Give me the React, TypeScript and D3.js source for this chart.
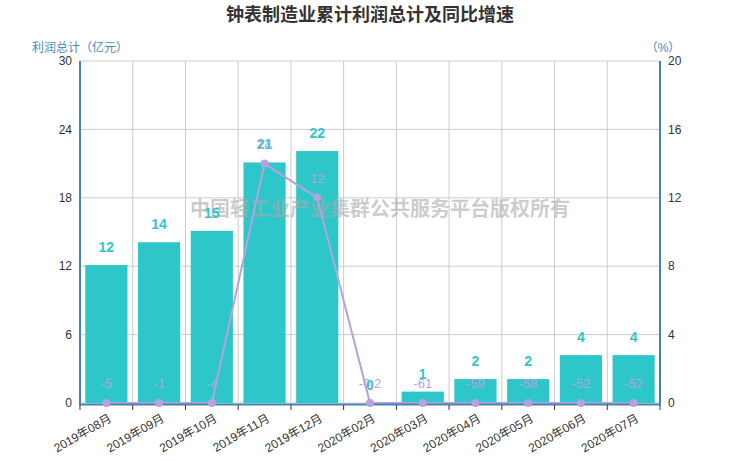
import React, { useEffect, useRef } from 'react';
import * as d3 from 'd3';

const categories = ['2019年08月', '2019年09月', '2019年10月', '2019年11月', '2019年12月', '2020年02月', '2020年03月', '2020年04月', '2020年05月', '2020年06月', '2020年07月'];
const profit = [12.1, 14.1, 15.1, 21.1, 22.1, 0, 1.0, 2.1, 2.1, 4.2, 4.2];
const growth = [-5, -1, -4, 14, 12, -0.2, -61, -59, -58, -52, -52];
const leftTicks = [0, 6, 12, 18, 24, 30];
const rightTicks = [0, 4, 8, 12, 16, 20];

const FONT = '"Liberation Sans", "Noto Sans CJK SC", sans-serif';

export default function App() {
    const ref = useRef<SVGSVGElement | null>(null);

    useEffect(() => {
        const svg = d3.select(ref.current);
        svg.selectAll('*').remove();
        const width = 740, height = 462;
        const margin = { top: 61, right: 80, bottom: 59, left: 80 };
        const bottom = height - margin.bottom;

        const band = d3.scaleBand().domain(categories).range([margin.left, width - margin.right]);
        const yL = d3.scaleLinear().domain([0, 30]).range([bottom, margin.top]);
        const yR = d3.scaleLinear().domain([0, 20]).range([bottom, margin.top]).clamp(true);

        svg.attr('viewBox', `0 0 ${width} ${height}`).style('font-family', FONT);

        // title
        svg.append('text').attr('x', 370).attr('y', 21).attr('text-anchor', 'middle')
            .attr('font-size', 18).attr('font-weight', 'bold').attr('fill', '#333')
            .text('钟表制造业累计利润总计及同比增速');

        // horizontal grid
        svg.append('g').selectAll('line').data(leftTicks).join('line')
            .attr('x1', margin.left).attr('x2', width - margin.right)
            .attr('y1', d => yL(d)).attr('y2', d => yL(d))
            .attr('stroke', '#ccc').attr('stroke-width', 1);

        // vertical grid at category boundaries
        const bounds = categories.map(c => band(c) as number).concat([width - margin.right]);
        svg.append('g').selectAll('line').data(bounds.slice(1, -1)).join('line')
            .attr('x1', d => d).attr('x2', d => d)
            .attr('y1', margin.top).attr('y2', bottom)
            .attr('stroke', '#ccc').attr('stroke-width', 1);

        // bars
        svg.append('g').selectAll('rect').data(profit).join('rect')
            .attr('x', (d, i) => band(categories[i])! + band.bandwidth() * 0.1)
            .attr('width', band.bandwidth() * 0.8)
            .attr('y', d => yL(d))
            .attr('height', d => bottom - yL(d))
            .attr('fill', '#2ec7c9');

        // watermark
        svg.append('text').attr('x', 380).attr('y', 216).attr('text-anchor', 'middle')
            .attr('font-size', 20).attr('font-weight', 'bold').attr('fill', '#aaa').attr('fill-opacity', 0.6)
            .attr('font-family', '"Noto Sans CJK SC", sans-serif')
            .text('中国轻工业产业集群公共服务平台版权所有');

        // axes lines
        svg.append('line').attr('x1', margin.left).attr('x2', margin.left).attr('y1', margin.top).attr('y2', bottom + 1)
            .attr('stroke', '#4682b4').attr('stroke-width', 2);
        svg.append('line').attr('x1', width - margin.right).attr('x2', width - margin.right).attr('y1', margin.top).attr('y2', bottom + 1)
            .attr('stroke', '#4682b4').attr('stroke-width', 2);

        // line series
        const cx = (i: number) => band(categories[i])! + band.bandwidth() / 2;
        const line = d3.line<number>().x((d, i) => cx(i)).y(d => yR(d));
        svg.append('path').datum(growth)
            .attr('fill', 'none').attr('stroke', '#b6a2de').attr('stroke-width', 2)
            .attr('d', line);

        svg.append('line').attr('x1', margin.left - 1).attr('x2', width - margin.right + 1).attr('y1', bottom + 1.5).attr('y2', bottom + 1.5)
            .attr('stroke', '#4682b4').attr('stroke-width', 2);

        svg.append('g').selectAll('circle').data(growth).join('circle')
            .attr('cx', (d, i) => cx(i)).attr('cy', d => yR(d)).attr('r', 4)
            .attr('fill', '#b6a2de');

        // bottom ticks
        svg.append('g').selectAll('line').data(bounds).join('line')
            .attr('x1', d => d).attr('x2', d => d).attr('y1', bottom + 2).attr('y2', bottom + 7)
            .attr('stroke', '#333');

        // x labels
        svg.append('g').selectAll('text').data(categories).join('text')
            .attr('transform', (d, i) => `translate(${cx(i) + 4},${bottom + 14}) rotate(-30)`)
            .attr('text-anchor', 'end').attr('dy', '0.35em')
            .attr('font-size', 12).attr('fill', '#333')
            .text(d => d);

        // tick labels
        svg.append('g').selectAll('text').data(leftTicks).join('text')
            .attr('x', margin.left - 8).attr('y', d => yL(d)).attr('dy', '0.35em')
            .attr('text-anchor', 'end').attr('font-size', 12).attr('fill', '#333')
            .text(d => d);
        svg.append('g').selectAll('text').data(rightTicks).join('text')
            .attr('x', width - margin.right + 8).attr('y', d => yR(d)).attr('dy', '0.35em')
            .attr('text-anchor', 'start').attr('font-size', 12).attr('fill', '#333')
            .text(d => d);

        // axis names
        svg.append('text').attr('x', 32).attr('y', 52).attr('font-size', 12).attr('fill', '#4a8bc2')
            .text('利润总计（亿元）');
        svg.append('text').attr('x', 663).attr('y', 52).attr('text-anchor', 'middle').attr('font-size', 12).attr('fill', '#4a8bc2')
            .text('（%）');

        // bar labels
        svg.append('g').selectAll('text').data(profit).join('text')
            .attr('x', (d, i) => cx(i)).attr('y', d => yL(d) - 13)
            .attr('text-anchor', 'middle').attr('font-size', 14).attr('font-weight', 'bold').attr('fill', '#2ec7c9')
            .text(d => Math.round(d));

        // line labels
        svg.append('g').selectAll('text').data(growth).join('text')
            .attr('x', (d, i) => cx(i)).attr('y', d => yR(d) - 15)
            .attr('text-anchor', 'middle').attr('font-size', 13).attr('fill', '#b6a2de')
            .text(d => d);
    }, []);

    return <svg ref={ref} width={740} height={462} style={{ position: 'absolute', left: 0, top: 0 }} />;
}
